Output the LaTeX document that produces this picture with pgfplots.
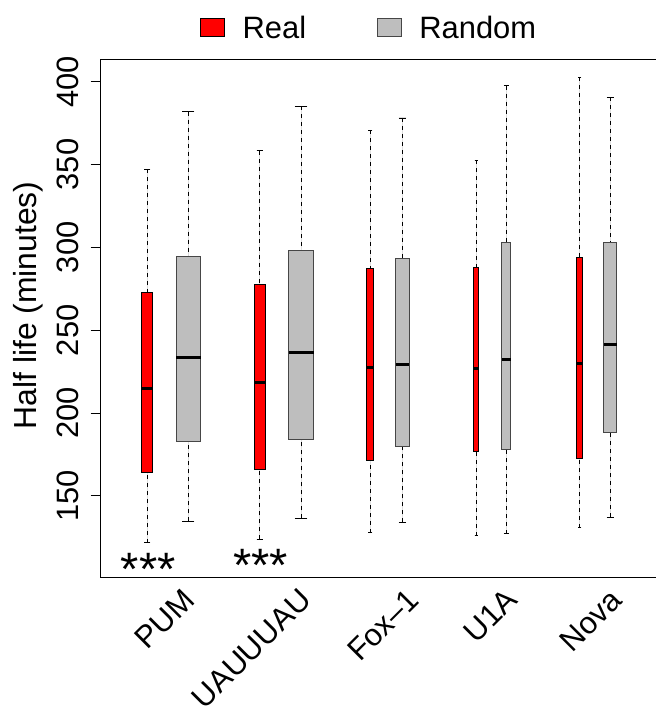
\documentclass[border=0pt]{standalone}
\usepackage{fontspec}
\setmainfont{Liberation Sans}
\usepackage{pgfplots}
\pgfplotsset{compat=1.18}
\usepgfplotslibrary{statistics}
\definecolor{boxgray}{RGB}{190,190,190}
\definecolor{boxred}{RGB}{255,0,0}
\definecolor{grayedge}{RGB}{70,70,70}
\pgfplotsset{
  boxplot/draw direction=y,
  boxplot/draw/lower whisker/.code={%
    \draw[dash pattern=on 4bp off 4bp, line width=0.8bp, black]
      (boxplot box cs:\pgfplotsboxplotvalue{lower whisker},0.5) -- (boxplot box cs:\pgfplotsboxplotvalue{lower quartile},0.5);
    \draw[solid, line width=0.9bp, black]
      (boxplot whisker cs:\pgfplotsboxplotvalue{lower whisker},0) -- (boxplot whisker cs:\pgfplotsboxplotvalue{lower whisker},1);
  },
  boxplot/draw/upper whisker/.code={%
    \draw[dash pattern=on 4bp off 4bp, line width=0.8bp, black]
      (boxplot box cs:\pgfplotsboxplotvalue{upper whisker},0.5) -- (boxplot box cs:\pgfplotsboxplotvalue{upper quartile},0.5);
    \draw[solid, line width=0.9bp, black]
      (boxplot whisker cs:\pgfplotsboxplotvalue{upper whisker},0) -- (boxplot whisker cs:\pgfplotsboxplotvalue{upper whisker},1);
  },
  boxplot/every median/.style={line width=3bp, black, solid},
  realbox/.style={forget plot, draw=black, fill=boxred, line width=0.9bp, solid},
  randbox/.style={forget plot, draw=grayedge, fill=boxgray, line width=0.9bp, solid},
}
\begin{document}
\begin{tikzpicture}
\useasboundingbox (-100.7bp,-135.7bp) rectangle (555.3bp,577.3bp);
\clip (-100.7bp,-135.7bp) rectangle (555.3bp,577.3bp);
\begin{axis}[
  at={(0,0)}, anchor=south west,
  scale only axis,
  width=560.3bp, height=518bp,
  xmin=100.7, xmax=661,
  ymin=100.94, ymax=413.5,
  axis line style={line width=1.1bp, black},
  tick align=outside,
  major tick length=10bp,
  ytick={150,200,250,300,350,400},
  ytick pos=left,
  ytick style={line width=1bp, black},
  xtick={196.5,313,421,519,624},
  xticklabels={PUM,UAUUUAU,Fox--1,U1A,Nova},
  xtick style={draw=none},
  /pgf/number format/assume math mode=true,
  tick label style={font=\fontsize{31}{31}\selectfont},
  yticklabel style={xshift=-11.7bp, rotate=90, anchor=base},
  xticklabel style={yshift=-14.7bp, rotate=45, anchor=base east, inner sep=0pt},
  ylabel={Half life (minutes)},
  ylabel style={font=\fontsize{32}{32}\selectfont, at={(axis description cs:-0.1142,0.5247)}, anchor=base, inner sep=0pt},
  clip=false,
]
% PUM
\addplot[realbox, boxplot prepared={draw position=147.3, box extend=11, whisker extend=6,
  lower whisker=121.8, lower quartile=164.3, median=214.6, upper quartile=272.9, upper whisker=347.1}] coordinates {};
\addplot[randbox, boxplot prepared={draw position=188.3, box extend=24.4, whisker extend=12.3,
  lower whisker=134.7, lower quartile=183.0, median=233.5, upper quartile=294.4, upper whisker=381.9}] coordinates {};
% UAUUUAU
\addplot[realbox, boxplot prepared={draw position=259.7, box extend=11, whisker extend=6,
  lower whisker=123.9, lower quartile=166.1, median=218.6, upper quartile=277.7, upper whisker=358.2}] coordinates {};
\addplot[randbox, boxplot prepared={draw position=301, box extend=25, whisker extend=12.5,
  lower whisker=136.5, lower quartile=184.0, median=236.5, upper quartile=298.4, upper whisker=385.3}] coordinates {};
% Fox-1
\addplot[realbox, boxplot prepared={draw position=370.2, box extend=7.4, whisker extend=4.2,
  lower whisker=127.9, lower quartile=171.5, median=227.7, upper quartile=287.4, upper whisker=370.7}] coordinates {};
\addplot[randbox, boxplot prepared={draw position=402.5, box extend=13.5, whisker extend=7.2,
  lower whisker=134.1, lower quartile=180.0, median=229.2, upper quartile=293.6, upper whisker=378.1}] coordinates {};
% U1A
\addplot[realbox, boxplot prepared={draw position=476, box extend=5.2, whisker extend=3,
  lower whisker=125.9, lower quartile=177.0, median=227.2, upper quartile=288.2, upper whisker=352.7}] coordinates {};
\addplot[randbox, boxplot prepared={draw position=506.3, box extend=9.1, whisker extend=5,
  lower whisker=127.2, lower quartile=177.9, median=232.2, upper quartile=302.7, upper whisker=397.6}] coordinates {};
% Nova
\addplot[realbox, boxplot prepared={draw position=579.7, box extend=5.8, whisker extend=3.4,
  lower whisker=130.8, lower quartile=172.9, median=230.1, upper quartile=294.0, upper whisker=402.7}] coordinates {};
\addplot[randbox, boxplot prepared={draw position=610.2, box extend=12.8, whisker extend=6.9,
  lower whisker=137.3, lower quartile=188.4, median=241.5, upper quartile=303.1, upper whisker=390.6}] coordinates {};
% significance stars
\node[font=\fontsize{47}{47}\selectfont, anchor=north, inner sep=0pt] at (axis cs:148.3,115.8) {***};
\node[font=\fontsize{47}{47}\selectfont, anchor=north, inner sep=0pt] at (axis cs:260.8,117.8) {***};
\end{axis}
% legend
\draw[line width=0.9bp, black, fill=boxred] (100bp,540.6bp) rectangle (123.6bp,559bp);
\node[anchor=base west, inner sep=0pt, font=\fontsize{31}{31}\selectfont] at (141.8bp,539bp) {Real};
\draw[line width=0.9bp, grayedge, fill=boxgray] (276.6bp,540.6bp) rectangle (300.3bp,559bp);
\node[anchor=base west, inner sep=0pt, font=\fontsize{31}{31}\selectfont] at (318.5bp,539bp) {Random};
\end{tikzpicture}
\end{document}
